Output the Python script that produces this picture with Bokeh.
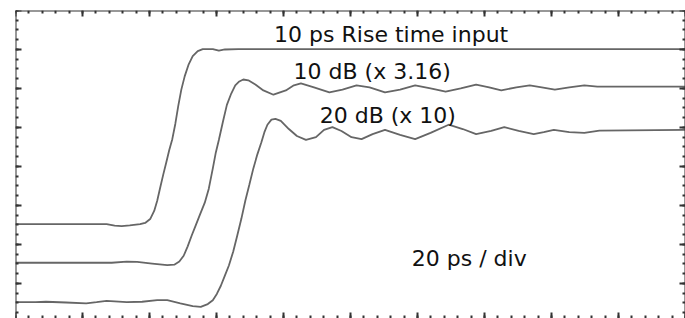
from bokeh.plotting import figure
from bokeh.models import Range1d, LinearAxis, SingleIntervalTicker, Label, CustomJSTickFormatter
from bokeh.embed import file_html
from bokeh.resources import INLINE

# Time axis in ps (20 ps / div, 10 divisions); amplitude in divisions (8 divisions)
input_t = [0, 27.2, 29.6, 31.7, 34.1, 37.2, 38.7, 40.2, 41.4, 42.3, 43.2, 44.1, 45.0,
           45.9, 46.8, 47.7, 48.6, 49.5, 50.5, 51.7, 52.9, 54.4, 55.9, 58.9, 60.7,
           62.5, 66.5, 200]
input_v = [2.52, 2.52, 2.48, 2.47, 2.49, 2.52, 2.55, 2.65, 2.86, 3.12, 3.46, 3.79, 4.10,
           4.42, 4.70, 5.09, 5.56, 5.97, 6.31, 6.62, 6.83, 6.96, 7.01, 7.01, 6.97,
           7.00, 7.01, 7.01]

db10_t = [0, 28.7, 33.2, 36.3, 40.8, 45.3, 47.4, 48.9, 50.2, 51.4, 52.6, 53.8, 55.0,
          56.5, 57.7, 58.9, 59.8, 60.7, 61.9, 63.1, 64.4, 65.6, 66.8, 68.0, 69.5,
          71.6, 74.0, 77.0, 80.7, 83.1, 85.2, 89.1, 93.7, 97.6, 101.8, 105.7, 110.3,
          114.8, 119.3, 123.9, 128.4, 132.9, 137.5, 141.4, 145.0, 149.5, 153.5, 157.1,
          161.0, 165.3, 169.8, 173.7, 176.7, 200]
db10_v = [1.53, 1.53, 1.56, 1.55, 1.51, 1.47, 1.48, 1.56, 1.71, 1.95, 2.23, 2.49, 2.75,
          3.07, 3.43, 3.95, 4.36, 4.68, 5.14, 5.58, 5.87, 6.08, 6.18, 6.23, 6.21,
          6.10, 5.95, 5.84, 5.95, 6.08, 6.13, 6.03, 5.90, 5.97, 6.08, 6.03, 5.90,
          5.97, 6.08, 6.00, 5.92, 6.00, 6.10, 6.03, 5.95, 6.03, 6.08, 6.03,
          5.97, 6.03, 6.08, 6.05, 6.05, 6.05]

db20_t = [0, 6.0, 9.1, 15.1, 21.1, 24.2, 27.2, 33.2, 37.8, 42.3, 45.3, 49.2, 52.9, 55.3,
          57.4, 58.9, 60.1, 61.3, 62.5, 63.7, 65.0, 66.2, 67.4, 68.6, 69.8, 71.0,
          72.2, 73.4, 74.3, 75.2, 76.4, 77.6, 79.2, 81.6, 84.0, 86.7, 89.7, 92.1,
          94.6, 97.3, 100.3, 103.3, 106.6, 110.3, 114.8, 119.3, 123.9, 129.3, 133.5,
          137.5, 142.0, 145.9, 150.2, 154.7, 157.7, 160.7, 165.3, 169.8, 174.3, 200]
db20_v = [0.52, 0.52, 0.53, 0.51, 0.49, 0.52, 0.55, 0.52, 0.53, 0.57, 0.57, 0.49, 0.42, 0.40,
          0.47, 0.57, 0.73, 0.94, 1.20, 1.46, 1.82, 2.23, 2.65, 3.12, 3.53, 3.95,
          4.31, 4.62, 4.88, 5.07, 5.20, 5.22, 5.17, 4.96, 4.78, 4.68, 4.75, 4.94,
          5.01, 4.91, 4.75, 4.70, 4.83, 4.94, 4.81, 4.70, 4.86, 5.07, 4.96,
          4.83, 4.91, 5.01, 4.91, 4.83, 4.88, 4.94, 4.88, 4.86, 4.92, 4.94]

labels = ["10 ps Rise time input", "10 dB (x 3.16)", "20 dB (x 10)", "20 ps / div"]
label_t = [77.2, 83.0, 90.8, 118.3]
label_v = [7.38, 6.44, 5.31, 1.64]

p = figure(width=685, height=318, output_backend="svg", toolbar_location=None,
           x_range=Range1d(0, 200), y_range=Range1d(0.1, 8),
           min_border_left=15, min_border_top=10, min_border_right=0, min_border_bottom=0,
           x_axis_location=None, y_axis_location=None)
p.background_fill_color = "white"
p.border_fill_color = "white"
p.xgrid.visible = False
p.ygrid.visible = False
p.outline_line_color = None

blank = CustomJSTickFormatter(code="return ''")

def style_axis(ax, show_line=True):
    ax.axis_line_color = "#333333" if show_line else None
    ax.axis_line_width = 2
    ax.major_tick_in = 6
    ax.major_tick_out = 0
    ax.minor_tick_in = 3
    ax.minor_tick_out = 0
    ax.major_tick_line_color = "#333333"
    ax.minor_tick_line_color = "#333333"
    ax.major_tick_line_width = 2
    ax.minor_tick_line_width = 2
    ax.formatter = blank
    ax.major_label_standoff = 0

for loc, fixed, show in [("below", 0.1, False), ("above", 8, True)]:
    ax = LinearAxis(ticker=SingleIntervalTicker(interval=20, num_minor_ticks=5), fixed_location=fixed)
    style_axis(ax, show)
    p.add_layout(ax, loc)
for loc, fixed in [("left", 0), ("right", 200)]:
    ax = LinearAxis(ticker=SingleIntervalTicker(interval=1, num_minor_ticks=4), fixed_location=fixed)
    style_axis(ax)
    p.add_layout(ax, loc)

line_color = "#666666"
p.line(input_t, input_v, line_color=line_color, line_width=1.8)
p.line(db10_t, db10_v, line_color=line_color, line_width=1.8)
p.line(db20_t, db20_v, line_color=line_color, line_width=1.8)

for txt, t, v in zip(labels, label_t, label_v):
    p.add_layout(Label(x=t, y=v, text=txt, text_font="DejaVu Sans", text_font_size="22px",
                       text_color="#111111", text_baseline="middle", text_align="left"))

open("out.html", "w").write(file_html(p, INLINE))
